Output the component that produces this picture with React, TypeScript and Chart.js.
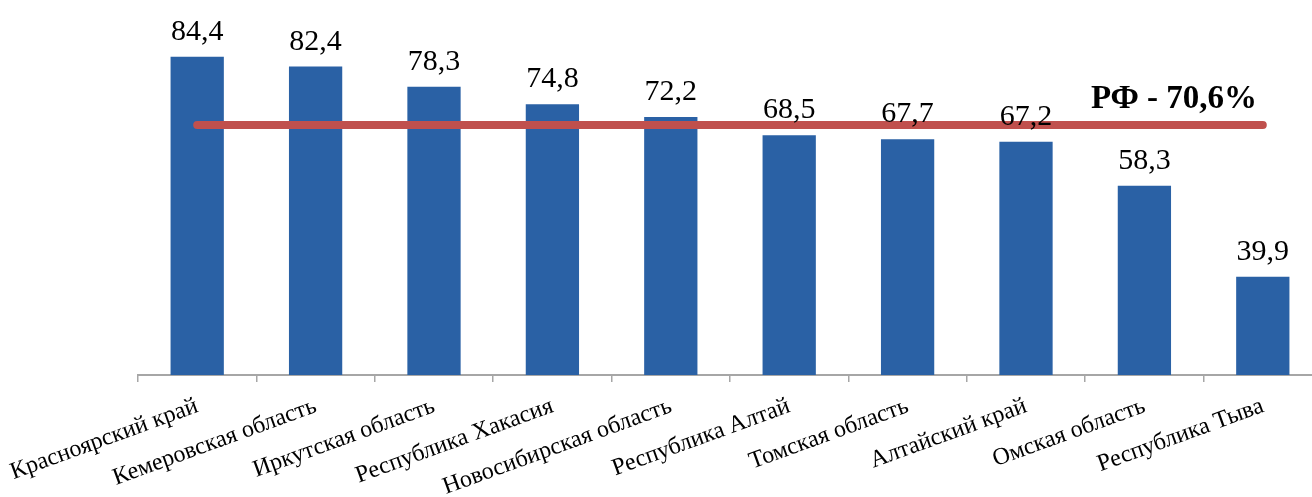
import React, { useEffect, useRef } from "react";
import Chart from "chart.js/auto";

const categories = [
  "Красноярский край",
  "Кемеровская область",
  "Иркутская область",
  "Республика Хакасия",
  "Новосибирская область",
  "Республика Алтай",
  "Томская область",
  "Алтайский край",
  "Омская область",
  "Республика Тыва",
];
const values = [84.4, 82.4, 78.3, 74.8, 72.2, 68.5, 67.7, 67.2, 58.3, 39.9];
const rfValue = 70.6;
const rfLabel = "РФ - 70,6%";
const yMin = 20;
const yMax = 90;

const FONT = "'Liberation Serif', 'Times New Roman', serif";

const labelsPlugin = {
  id: "valueLabels",
  afterDatasetsDraw(chart: any) {
    const ctx = chart.ctx;
    const meta = chart.getDatasetMeta(0);
    ctx.save();
    ctx.fillStyle = "#000";
    ctx.font = `30px ${FONT}`;
    ctx.textAlign = "center";
    ctx.textBaseline = "alphabetic";
    meta.data.forEach((el: any, i: number) => {
      const txt = values[i].toFixed(1).replace(".", ",");
      ctx.fillText(txt, el.x, el.y - 17);
    });
    const xs = chart.scales.x;
    const ys = chart.scales.y;
    ctx.font = `bold 33px ${FONT}`;
    ctx.fillText(rfLabel, xs.getPixelForValue(8.25), ys.getPixelForValue(rfValue) - 17);
    ctx.restore();
  },
};

export default function App() {
  const ref = useRef<HTMLCanvasElement | null>(null);
  useEffect(() => {
    if (!ref.current) return;
    const chart = new Chart(ref.current, {
      type: "bar",
      data: {
        labels: categories,
        datasets: [
          {
            type: "bar",
            data: values,
            backgroundColor: "#2a61a5",
            categoryPercentage: 1,
            barPercentage: 0.45,
            order: 1,
          } as any,
          {
            type: "line",
            data: categories.map(() => rfValue),
            borderColor: "#c0504d",
            borderWidth: 8,
            borderCapStyle: "round",
            pointRadius: 0,
            order: 0,
          } as any,
        ],
      },
      options: {
        animation: false,
        responsive: true,
        maintainAspectRatio: false,
        layout: { padding: { left: 138, right: 18, top: 29, bottom: 0 } },
        plugins: { legend: { display: false }, tooltip: { enabled: false } },
        scales: {
          x: {
            grid: {
              offset: true,
              drawOnChartArea: false,
              drawTicks: true,
              tickLength: 7,
              color: "#a6a6a6",
              lineWidth: 1.5,
            },
            border: { color: "#a6a6a6", width: 2 },
            ticks: {
              autoSkip: false,
              minRotation: 20,
              maxRotation: 20,
              padding: 10,
              color: "#000",
              font: { family: FONT, size: 24 },
            },
            afterFit(scale: any) {
              scale.height = 122;
              scale.paddingLeft = 0;
              scale.paddingRight = 0;
            },
          },
          y: {
            display: false,
            min: yMin,
            max: yMax,
          },
        },
      },
      plugins: [labelsPlugin],
    });
    return () => chart.destroy();
  }, []);
  return (
    <div style={{ position: "fixed", left: 0, top: 0, width: 1312, height: 497, overflow: "hidden", background: "#fff" }}>
      <div style={{ position: "relative", width: 1340, height: 497 }}>
        <canvas ref={ref} />
      </div>
    </div>
  );
}
